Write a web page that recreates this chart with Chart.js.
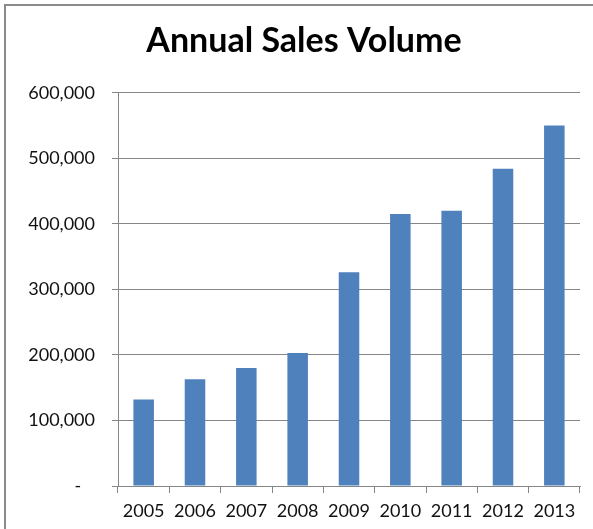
<!DOCTYPE html>
<html>
<head>
<meta charset="utf-8">
<script src="https://cdn.jsdelivr.net/npm/chart.js@4"></script>
<style>
  html, body { margin: 0; padding: 0; background: #fff; }
  #wrap { width: 593px; height: 529px; position: relative; }
</style>
</head>
<body>
<div id="wrap"><canvas id="sales-chart"></canvas></div>
<script>
// Values
const years = ["2005", "2006", "2007", "2008", "2009", "2010", "2011", "2012", "2013"];
const salesVolume = [132000, 163000, 180000, 203000, 326000, 415000, 420000, 484000, 550000];
const yTicks = [0, 100000, 200000, 300000, 400000, 500000, 600000];

const axisGrey = "#868686";

// Grey frame round the chart (only left and top edges are visible)
const framePlugin = {
  id: "frame",
  afterDraw(chart) {
    const ctx = chart.ctx;
    ctx.save();
    ctx.strokeStyle = "#8a8a8a";
    ctx.lineWidth = 2;
    ctx.beginPath();
    ctx.moveTo(5, chart.height + 2);
    ctx.lineTo(5, 5);
    ctx.lineTo(chart.width + 2, 5);
    ctx.stroke();
    ctx.restore();
  },
};

const ctx = document.getElementById("sales-chart").getContext("2d");

new Chart(ctx, {
  type: "bar",
  data: {
    labels: years,
    datasets: [
      {
        label: "Sales Volume",
        data: salesVolume,
        backgroundColor: "#4F81BD",
        barPercentage: 0.4,
        categoryPercentage: 1.0,
      },
    ],
  },
  options: {
    responsive: true,
    maintainAspectRatio: false,
    animation: false,
    // left padding pushes the title centre to the right, as in the original
    layout: { padding: { left: 28, right: 13, top: 0, bottom: 0 } },
    plugins: {
      legend: { display: false },
      tooltip: { enabled: false },
      title: {
        display: true,
        text: "Annual Sales Volume",
        color: "#000",
        font: { family: "Lato", size: 34, weight: "bold", lineHeight: 1.2 },
        padding: { top: 21, bottom: 31 },
      },
    },
    scales: {
      x: {
        grid: {
          display: true,
          offset: true,
          drawOnChartArea: false,
          color: axisGrey,
          tickLength: 7,
        },
        border: { color: axisGrey },
        ticks: {
          color: "#111",
          font: { family: "Lato", size: 18 },
          padding: 7,
          maxRotation: 0,
        },
        afterFit: (scale) => { scale.height = 43; },
      },
      y: {
        min: 0,
        max: 600000,
        afterBuildTicks: (scale) => {
          scale.ticks = yTicks.map((v) => ({ value: v }));
        },
        grid: { color: axisGrey, tickLength: 6 },
        border: { color: axisGrey },
        ticks: {
          color: "#111",
          font: { family: "Lato", size: 18 },
          padding: 17,
          // accounting style: zero shown as a dash
          callback: (value) => (value === 0 ? "-   " : value.toLocaleString("en-US")),
        },
        afterFit: (scale) => { scale.width = 90; },
      },
    },
  },
  plugins: [framePlugin],
});
</script>
</body>
</html>
